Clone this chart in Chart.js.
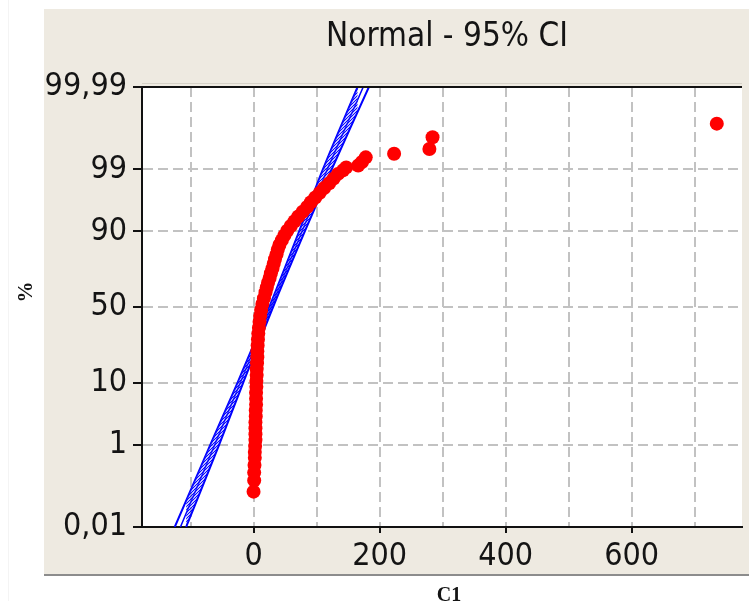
<!DOCTYPE html>
<html>
<head>
<meta charset="utf-8">
<script src="https://cdn.jsdelivr.net/npm/chart.js@4.4.1/dist/chart.umd.min.js"></script>
<style>
html,body{margin:0;padding:0;background:#fff;}
#wrap{width:749px;height:601px;}
</style>
</head>
<body>
<div id="wrap"><canvas id="c" width="749" height="601"></canvas></div>
<script>
// ---- Data ----
const titleText = 'Normal - 95% CI';
const xTitle = 'C1';
const yTitle = '%';

// probability-axis tick labels (percent)
const yTickPct = [0.01, 1, 10, 50, 90, 99, 99.99];
const yTickLabels = ['0,01', '1', '10', '50', '90', '99', '99,99'];
// x-axis grid every 100, labels every 200
const xGridValues = [-100, 0, 100, 200, 300, 400, 500, 600, 700];
const xLabelValues = [0, 200, 400, 600];

// observed points: plotting position (%) and C1 value
const obsPct = [0.090, 0.169, 0.256, 0.379, 0.539, 0.714, 0.939, 1.222, 1.578, 2.018,
  2.559, 3.216, 4.006, 4.947, 6.057, 7.353, 8.851, 10.565, 12.507, 14.686,
  17.106, 19.766, 22.663, 25.785, 29.116, 32.636, 36.317, 40.129, 44.038, 48.006,
  51.994, 55.962, 59.871, 62.930, 65.910, 68.793, 71.566, 74.215, 76.730, 79.103,
  81.327, 83.398, 85.314, 87.076, 88.686, 90.147, 91.466, 92.647, 93.699, 94.630,
  95.449, 96.164, 96.784, 97.320, 97.778, 98.169, 98.500, 98.778, 98.956, 99.086,
  99.158, 99.286, 99.430, 99.520, 99.621, 99.795, 99.903];
const obsC1 = [0, 1, 1, 1.5, 2, 2, 2.5, 3, 3, 3,
  3, 3.5, 3.5, 4, 4, 4, 4.5, 4.5, 5, 5,
  5.5, 6, 6, 6.5, 7, 7.5, 8.5, 9.5, 10.5, 12,
  14, 16.5, 19, 21, 23, 25.5, 27.5, 30, 32, 34,
  36.5, 38.5, 41, 45, 49, 53.5, 59, 65, 71, 78,
  85, 91, 98, 105, 112, 120, 127, 134, 142, 147,
  166, 172, 178, 223, 279, 284, 735];

// fitted normal line and 95% confidence bounds
const fitPct = [0.01, 1, 10, 50, 90, 99, 99.99];
const fitC1 = [-116, -61.5, -21, 28, 77, 117, 174];
const ciLowC1 = [-125, -68.5, -25.5, 25, 72.5, 110, 165];
const ciHighC1 = [-107, -54.5, -16.5, 31, 81.5, 124, 183];

// ---- inverse standard normal (probability axis transform) ----
function invNorm(p) {
  const a = [-3.969683028665376e+01, 2.209460984245205e+02, -2.759285104469687e+02, 1.383577518672690e+02, -3.066479806614716e+01, 2.506628277459239e+00];
  const b = [-5.447609879822406e+01, 1.615858368580409e+02, -1.556989798598866e+02, 6.680131188771972e+01, -1.328068155288572e+01];
  const c = [-7.784894002430293e-03, -3.223964580411365e-01, -2.400758277161838e+00, -2.549671010229528e+00, 4.374664141464968e+00, 2.938163982698783e+00];
  const d = [7.784695709041462e-03, 3.224671290700398e-01, 2.445134137142996e+00, 3.754408661907416e+00];
  const pl = 0.02425, ph = 1 - pl;
  let q, r;
  if (p < pl) { q = Math.sqrt(-2 * Math.log(p)); return (((((c[0]*q+c[1])*q+c[2])*q+c[3])*q+c[4])*q+c[5]) / ((((d[0]*q+d[1])*q+d[2])*q+d[3])*q+1); }
  if (p <= ph) { q = p - 0.5; r = q*q; return (((((a[0]*r+a[1])*r+a[2])*r+a[3])*r+a[4])*r+a[5])*q / (((((b[0]*r+b[1])*r+b[2])*r+b[3])*r+b[4])*r+1); }
  q = Math.sqrt(-2 * Math.log(1 - p));
  return -(((((c[0]*q+c[1])*q+c[2])*q+c[3])*q+c[4])*q+c[5]) / ((((d[0]*q+d[1])*q+d[2])*q+d[3])*q+1);
}
const zOf = pct => invNorm(pct / 100);
const zMin = zOf(0.01), zMax = zOf(99.99);

const toPts = (xs, ps) => xs.map((x, i) => ({ x: x, y: zOf(ps[i]) }));

// hatch pattern for CI band
const pc = document.createElement('canvas');
pc.width = 3; pc.height = 3;
const pg = pc.getContext('2d');
pg.fillStyle = 'rgba(90,90,255,0.35)';
pg.fillRect(0, 0, 3, 3);
pg.strokeStyle = 'rgba(0,0,255,0.95)';
pg.lineWidth = 1;
pg.beginPath(); pg.moveTo(0, 3); pg.lineTo(3, 0); pg.stroke();
const hatch = pg.createPattern(pc, 'repeat');

const FONT = '"DejaVu Sans Condensed", "Liberation Sans", sans-serif';
const TXT = '#141414';

const decor = {
  id: 'decor',
  beforeDraw(chart) {
    const ctx = chart.ctx, a = chart.chartArea;
    ctx.save();
    ctx.fillStyle = '#ffffff';
    ctx.fillRect(0, 0, chart.width, chart.height);
    ctx.fillStyle = '#EEEAE1';
    ctx.fillRect(44, 9, chart.width - 44, 566);
    ctx.strokeStyle = '#8c8c8c';
    ctx.lineWidth = 2;
    ctx.beginPath(); ctx.moveTo(44, 575); ctx.lineTo(chart.width, 575); ctx.stroke();
    ctx.strokeStyle = '#f4f4f4';
    ctx.lineWidth = 1;
    ctx.beginPath(); ctx.moveTo(8.5, 0); ctx.lineTo(8.5, chart.height); ctx.stroke();
    ctx.fillStyle = '#ffffff';
    ctx.fillRect(a.left, a.top, a.right - a.left, a.bottom - a.top);
    ctx.restore();
  },
  afterDraw(chart) {
    const ctx = chart.ctx, a = chart.chartArea;
    ctx.save();
    ctx.strokeStyle = '#d6d2c8';
    ctx.lineWidth = 1;
    ctx.beginPath(); ctx.moveTo(a.left, a.top - 3.5); ctx.lineTo(a.right, a.top - 3.5); ctx.stroke();
    ctx.strokeStyle = '#111';
    ctx.lineWidth = 2;
    ctx.beginPath(); ctx.moveTo(a.left - 1, a.top); ctx.lineTo(a.right, a.top); ctx.stroke();
    ctx.fillStyle = TXT;
    ctx.font = '33px ' + FONT;
    ctx.textAlign = 'center';
    ctx.textBaseline = 'alphabetic';
    ctx.fillText(titleText, 447, 46);
    ctx.font = 'bold 20px "Liberation Serif", serif';
    ctx.fillText(xTitle, 449, 601);
    ctx.translate(27, 292);
    ctx.rotate(-Math.PI / 2);
    ctx.font = 'bold 21px "Liberation Serif", serif';
    ctx.textBaseline = 'middle';
    ctx.fillText(yTitle, 0, 0);
    ctx.restore();
  }
};

new Chart(document.getElementById('c'), {
  type: 'scatter',
  data: {
    datasets: [
      {
        label: 'C1',
        data: toPts(obsC1, obsPct),
        backgroundColor: '#ff0000',
        borderColor: '#ff0000',
        borderWidth: 0,
        pointRadius: 7,
        pointHoverRadius: 7,
        showLine: false
      },
      {
        label: 'Upper',
        data: toPts(ciHighC1, fitPct),
        showLine: true,
        borderColor: '#0000ff',
        borderWidth: 2,
        pointRadius: 0,
        fill: '+2',
        backgroundColor: hatch,
        tension: 0.3
      },
      {
        label: 'Fit',
        data: toPts(fitC1, fitPct),
        showLine: true,
        borderColor: '#0000ff',
        borderWidth: 1.5,
        pointRadius: 0,
        fill: false
      },
      {
        label: 'Lower',
        data: toPts(ciLowC1, fitPct),
        showLine: true,
        borderColor: '#0000ff',
        borderWidth: 2,
        pointRadius: 0,
        fill: false,
        tension: 0.3
      }
    ]
  },
  options: {
    responsive: false,
    animation: false,
    events: [],
    layout: { padding: { left: 0, top: 87, right: 0, bottom: 0 } },
    plugins: {
      legend: { display: false },
      tooltip: { enabled: false },
      title: { display: false }
    },
    scales: {
      x: {
        type: 'linear',
        min: -177,
        max: 775,
        afterBuildTicks(s) { s.ticks = xGridValues.map(v => ({ value: v })); },
        afterFit(s) { s.height = 74; },
        border: { display: true, color: '#111', width: 2, dash: [10, 5] },
        grid: {
          color: '#c2c2c2',
          lineWidth: 2,
          borderDash: [10, 5],
          drawTicks: true,
          tickLength: 6,
          tickWidth: 2,
          tickBorderDash: [],
          tickColor: ctx => (ctx.tick && xLabelValues.includes(ctx.tick.value)) ? '#111' : 'rgba(0,0,0,0)'
        },
        ticks: {
          autoSkip: false,
          maxRotation: 0,
          padding: 4,
          color: TXT,
          font: { family: FONT, size: 32 },
          callback: v => xLabelValues.includes(v) ? String(v) : ''
        }
      },
      y: {
        type: 'linear',
        min: zMin,
        max: zMax,
        afterBuildTicks(s) { s.ticks = yTickPct.map(p => ({ value: zOf(p) })); },
        afterFit(s) { s.width = 142; },
        border: { display: true, color: '#111', width: 2, dash: [10, 5] },
        grid: {
          color: '#c2c2c2',
          lineWidth: 2,
          borderDash: [10, 5],
          drawTicks: true,
          tickLength: 9,
          tickWidth: 2,
          tickBorderDash: [],
          tickColor: '#111'
        },
        ticks: {
          autoSkip: false,
          padding: 6,
          color: TXT,
          font: { family: FONT, size: 32 },
          callback: (v, i) => yTickLabels[i]
        }
      }
    }
  },
  plugins: [decor]
});
</script>
</body>
</html>
